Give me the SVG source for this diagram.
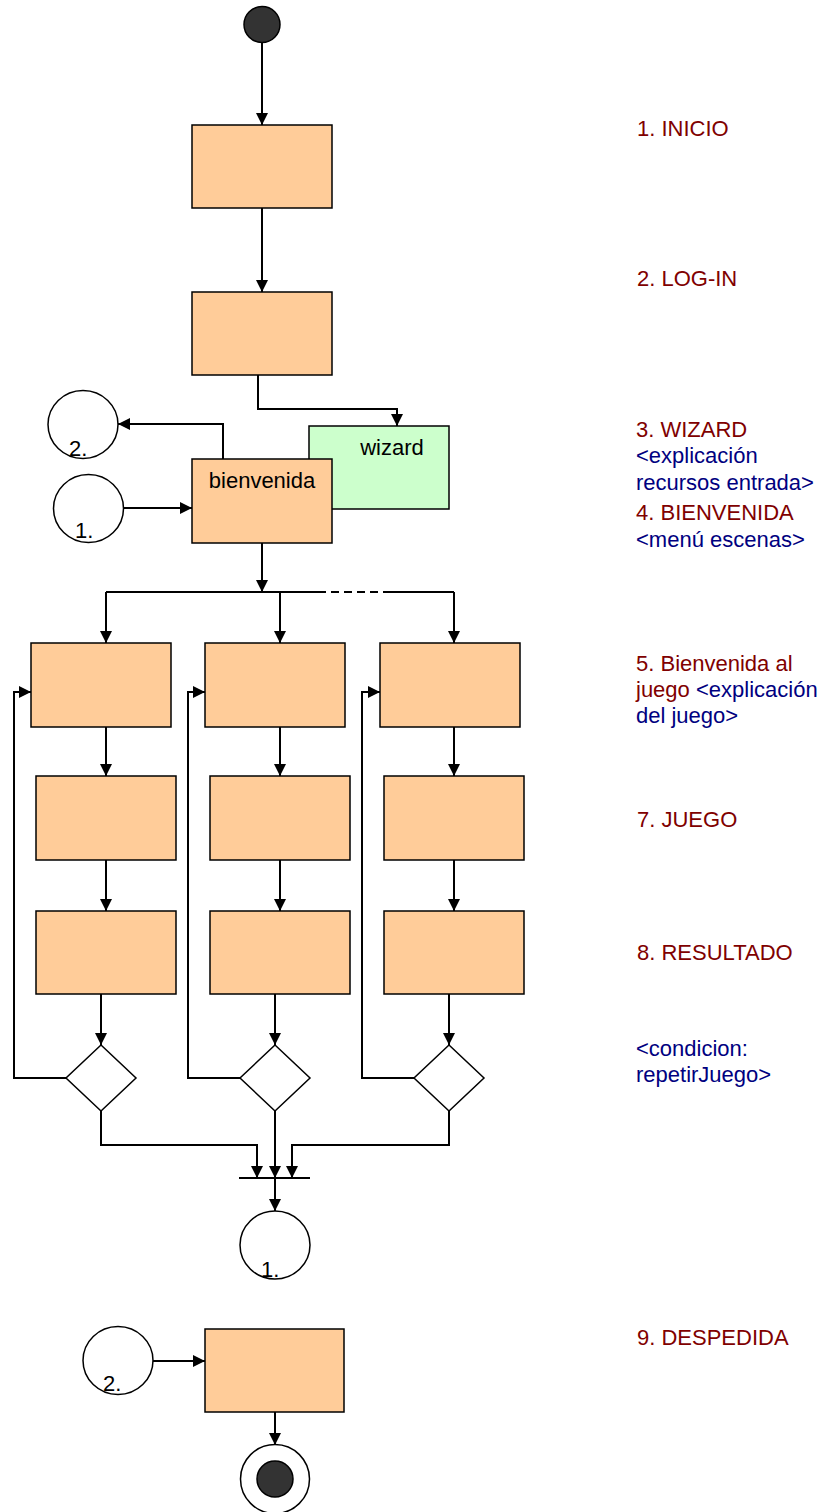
<svg xmlns="http://www.w3.org/2000/svg" width="825" height="1512" viewBox="0 0 825 1512">
<style>
.box{fill:#FFCC99;stroke:#000;stroke-width:1.5}
.wiz{fill:#CCFFCC;stroke:#000;stroke-width:1.5}
.con{fill:#FFFFFF;stroke:#000;stroke-width:1.5}
.dia{fill:#FFFFFF;stroke:#000;stroke-width:1.5}
.ln{fill:none;stroke:#000;stroke-width:2}
.arr{fill:none;stroke:#000;stroke-width:2;marker-end:url(#ah)}
.t{font-family:"Liberation Sans",Arial,sans-serif;font-size:22px;fill:#000}
.r{font-family:"Liberation Sans",Arial,sans-serif;font-size:22px;fill:#800000}
.b{fill:#000080}
</style>
<defs>
<marker id="ah" markerUnits="userSpaceOnUse" markerWidth="12" markerHeight="12" refX="12" refY="6" orient="auto">
<path d="M0,0 L12,6 L0,12 z" fill="#000"/>
</marker>
</defs>

<g id="connectors">
<path class="arr" d="M262,42 V125"/>
<path class="arr" d="M262,208 V292"/>
<path class="arr" d="M258,375 V409 H397 V426"/>
<path class="arr" d="M223,459 V424 H118"/>
<path class="arr" d="M124,508 H192"/>
<path class="arr" d="M262,543 V592"/>
<path class="ln" d="M106,592 H318"/>
<path class="ln" d="M318,592 H383" stroke-dasharray="8,5"/>
<path class="ln" d="M383,592 H454"/>
<path class="arr" d="M106,592 V643"/>
<path class="arr" d="M280,592 V643"/>
<path class="arr" d="M454,592 V643"/>
<path class="arr" d="M106,727 V776"/>
<path class="arr" d="M280,727 V776"/>
<path class="arr" d="M454,727 V776"/>
<path class="arr" d="M106,860 V911"/>
<path class="arr" d="M280,860 V911"/>
<path class="arr" d="M454,860 V911"/>
<path class="arr" d="M101,994 V1045"/>
<path class="arr" d="M275,994 V1045"/>
<path class="arr" d="M449,994 V1045"/>
<path class="arr" d="M66,1078 H14 V692 H31"/>
<path class="arr" d="M240,1078 H188 V692 H205"/>
<path class="arr" d="M414,1078 H362 V692 H380"/>
<path class="arr" d="M101,1111 V1145 H257 V1178"/>
<path class="arr" d="M275,1111 V1178"/>
<path class="arr" d="M449,1111 V1145 H292 V1178"/>
<path class="ln" d="M239,1178 H310"/>
<path class="arr" d="M275,1178 V1211"/>
<path class="arr" d="M153,1361 H205"/>
<path class="arr" d="M275,1412 V1445"/>
</g>

<g id="start"><circle cx="262" cy="24.5" r="18" fill="#333333" stroke="#000" stroke-width="1.5"/></g>
<g id="inicio"><rect class="box" x="192" y="125" width="140" height="83"/></g>
<g id="login"><rect class="box" x="192" y="292" width="140" height="83"/></g>
<g id="wizard"><rect class="wiz" x="309" y="426" width="140" height="83"/><text class="t" x="392" y="455" text-anchor="middle">wizard</text></g>
<g id="bienvenida"><rect class="box" x="192" y="459" width="140" height="84"/><text class="t" x="262" y="488" text-anchor="middle">bienvenida</text></g>
<g id="conn2top"><ellipse class="con" cx="83" cy="424.5" rx="35" ry="34"/><text class="t" x="69" y="456">2.</text></g>
<g id="conn1top"><ellipse class="con" cx="88.5" cy="508.5" rx="35" ry="34"/><text class="t" x="75" y="538">1.</text></g>

<g id="bienvenidaJuegoA"><rect class="box" x="31" y="643" width="140" height="84"/></g>
<g id="bienvenidaJuegoB"><rect class="box" x="205" y="643" width="140" height="84"/></g>
<g id="bienvenidaJuegoC"><rect class="box" x="380" y="643" width="140" height="84"/></g>
<g id="juegoA"><rect class="box" x="36" y="776" width="140" height="84"/></g>
<g id="juegoB"><rect class="box" x="210" y="776" width="140" height="84"/></g>
<g id="juegoC"><rect class="box" x="384" y="776" width="140" height="84"/></g>
<g id="resultadoA"><rect class="box" x="36" y="911" width="140" height="83"/></g>
<g id="resultadoB"><rect class="box" x="210" y="911" width="140" height="83"/></g>
<g id="resultadoC"><rect class="box" x="384" y="911" width="140" height="83"/></g>
<g id="decA"><polygon class="dia" points="101,1045 136,1078 101,1111 66,1078"/></g>
<g id="decB"><polygon class="dia" points="275,1045 310,1078 275,1111 240,1078"/></g>
<g id="decC"><polygon class="dia" points="449,1045 484,1078 449,1111 414,1078"/></g>
<g id="conn1bottom"><ellipse class="con" cx="275" cy="1245" rx="35" ry="34"/><text class="t" x="261" y="1277">1.</text></g>

<g id="conn2bottom"><ellipse class="con" cx="118" cy="1360.5" rx="35" ry="34"/><text class="t" x="103" y="1391">2.</text></g>
<g id="despedida"><rect class="box" x="205" y="1329" width="139" height="83"/></g>
<g id="end"><circle cx="275" cy="1479" r="34.5" fill="#FFFFFF" stroke="#000" stroke-width="1.5"/><circle cx="275" cy="1479" r="18" fill="#333333" stroke="#000" stroke-width="1.5"/></g>

<g id="labels">
<text class="r" x="637" y="136">1. INICIO</text>
<text class="r" x="637" y="286">2. LOG-IN</text>
<text class="r" x="636" y="437">3. WIZARD</text>
<text class="r b" x="636" y="463">&lt;explicación</text>
<text class="r b" x="636" y="490">recursos entrada&gt;</text>
<text class="r" x="636" y="520">4. BIENVENIDA</text>
<text class="r b" x="636" y="547">&lt;menú escenas&gt;</text>
<text class="r" x="636" y="671">5. Bienvenida al</text>
<text class="r" x="636" y="697">juego <tspan class="b">&lt;explicación</tspan></text>
<text class="r b" x="636" y="723">del juego&gt;</text>
<text class="r" x="637" y="827">7. JUEGO</text>
<text class="r" x="637" y="960">8. RESULTADO</text>
<text class="r b" x="636" y="1056">&lt;condicion:</text>
<text class="r b" x="636" y="1082">repetirJuego&gt;</text>
<text class="r" x="637" y="1345">9. DESPEDIDA</text>
</g>
</svg>
